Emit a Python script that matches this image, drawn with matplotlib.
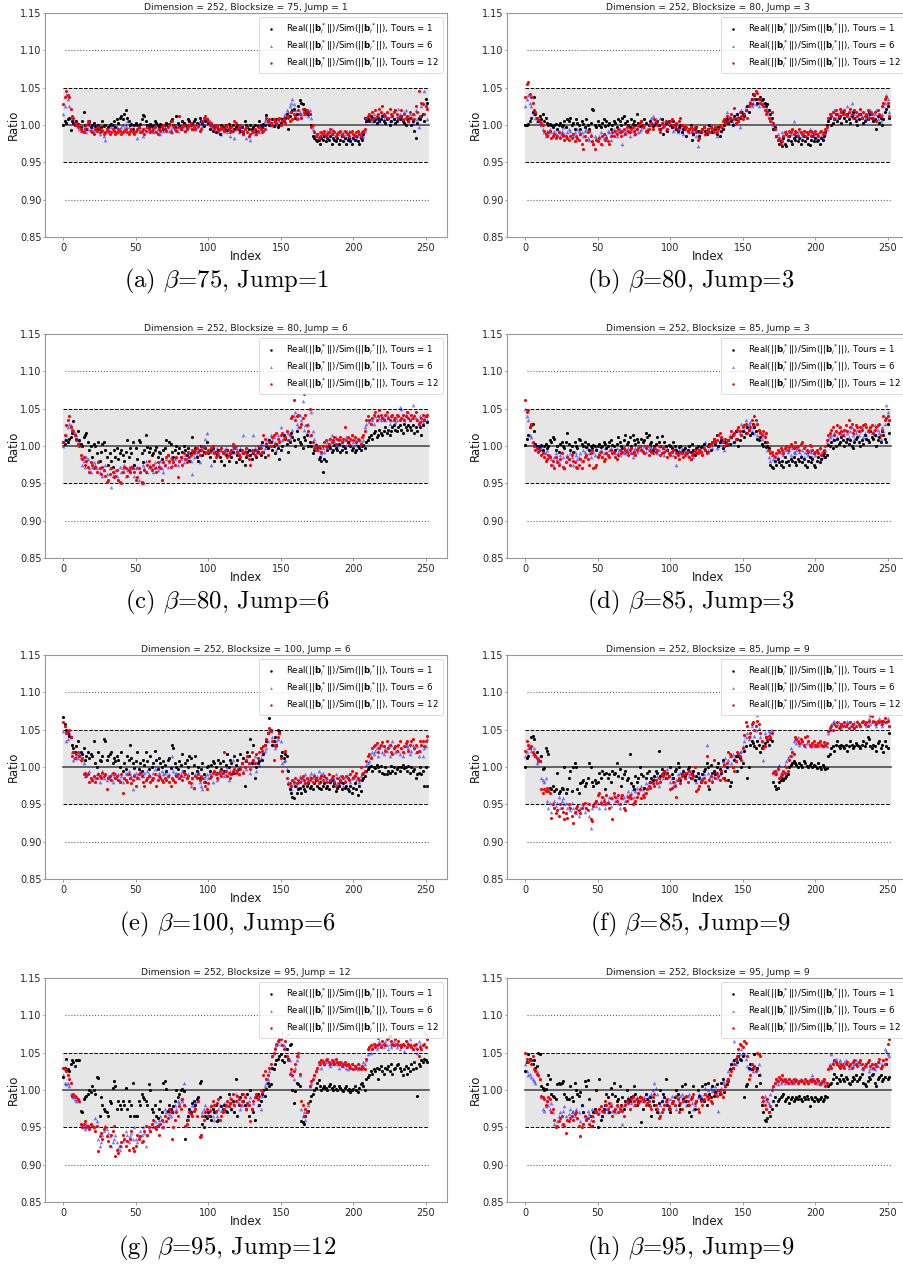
import numpy as np
import matplotlib.pyplot as plt

# Real/Sim ratio per index, stored as deviation from 1 in thousandths
# (a) blocksize 75, jump 1
a_t1 = """
0 5 3 8 10 -7 5 3 0 5  2 0 -3 5 18 0 -5 2 5 -3  0 3 -2 -5 0 -5 -3 5 -2 0
-5 -3 0 2 0 5 -3 8 3 10  12 8 15 20 10 5 0 2 -5 0  3 0 -3 2 8 13 12 5 0 -3
2 -2 0 6 3 0 -3 2 0 -5  0 3 -2 2 5 8 0 -3 12 3  -2 -5 5 3 0 -2 8 5 0 3
5 8 3 2 10 5 3 -2 5 8  3 -5 0 -8 -3 -10 -2 -5 -12 0  -3 -5 0 -7 2 -3 -8 0 -5 -3
0 -5 -8 -3 -10 5 0 -3 -5 0  -5 -3 0 -8 -2 5 0 -3 2 0  13 5 0 3 8 -2 5 8 -3 0
3 8 5 10 15 -5 12 18 20 22  10 15 25 33 30 28 22 20 18 15  15 0 -15 -18 -20 -22 -20 -25 -18 -20
-15 -22 -18 -20 -15 -25 -18 -20 -22 -18  -25 -20 -15 -22 -18 -25 -20 -18 -22 -25
-18 -20 -15 -22 -25 -18 -20 -12 10 5  8 5 12 10 5 8 3 10 5 8  12 5 3 8 10 0 5 12 8 3
5 10 8 12 5 3 0 8 5 10  0 5 -8 -18 3 10 8 12 15 5  35 30
"""
a_t6 = """
15 25 40 35 25 10 12 8 5 3  0 -5 -8 -5 0 -3 -10 -5 0 -5  -3 -8 -5 0 -3 -12 -8 -5 -15 -20
-10 -5 -8 -3 0 -5 -8 -3 -10 -5  -3 0 -5 -2 5 -3 -8 -5 0 -10  -8 -18 -5 -3 -10 -15 -5 -3 0 -8
-5 -3 -10 -8 0 -5 -3 -12 -5 -8  -3 -5 0 -8 -5 -10 -3 0 -5 -8  -3 0 -5 -2 -8 -3 0 5 -3 -5
0 -5 -3 0 5 3 -2 8 10 5  3 5 -2 -5 0 -8 -3 -10 -5 -12  -3 -8 -5 -10 -3 -15 -8 -5 -18 -3
-5 -10 -8 -3 -12 -5 -18 -8 -15 -20  -10 -5 -12 -8 -3 -10 -5 0 -3 5  8 3 5 0 2 5 0 3 8 5
10 5 12 15 20 18 25 30 35 28  20 15 10 18 12 15 20 18 15 12  20 10 -5 -8 -12 -15 -10 -18 -12 -15
-10 -12 -8 -15 -10 -5 -12 -8 -15 -10  -12 -8 -15 -10 -18 -12 -15 -8 -20 -18
-15 -12 -18 -15 -10 -12 -18 -15 -8 5  12 8 10 5 15 10 8 12 5 10  15 8 12 18 10 5 12 15 20 8
12 22 15 10 8 18 20 12 5 15  10 3 15 20 8 -3 12 25 30 45  25 8
"""
a_t12 = """
28 38 45 40 38 22 12 10 3 0  -3 0 -5 -8 -10 -5 0 5 3 -8  -10 -12 -5 -8 -3 -10 -5 -8 -12 -10
-5 -8 -12 -10 -5 -8 -12 -10 -5 -8  -12 -10 -8 -5 -10 -12 -8 -5 -10 -12  -8 -5 -3 -10 -8 -5 -12 -8 -3 -5
-10 -8 -5 -3 -10 -12 -5 -8 -3 0  -5 -8 -3 0 -10 5 -2 -5 -8 -3  12 -5 -3 0 -8 -5 -3 0 3 -5
-3 -5 0 -2 -8 -5 5 10 12 8  5 0 3 -3 -5 0 -3 -8 -5 -3  -5 -8 -3 0 -5 -10 -3 -8 5 3
-5 -3 0 -8 -12 -5 -3 -10 -15 -12  -8 -10 -5 -12 -8 -3 -5 -10 -8 -5  10 5 8 3 0 8 5 3 8 10
0 5 8 3 12 10 5 18 8 15  12 8 20 15 10 22 18 15 20 18  15 -3 0 -10 -15 -12 -18 -15 -10 -12
-8 -15 -12 -10 -5 -12 -8 -10 -15 -12  -10 -8 -12 -15 -8 -10 -12 -15 -10 -8
-12 -15 -10 -8 -12 -15 -10 -8 -5 10  12 15 8 18 10 20 12 15 22 18  25 15 12 18 10 22 15 12 18 20
15 10 12 20 8 15 10 12 5 18  10 15 8 25 18 45 12 30 28 15  25 22
"""

# (b) blocksize 80, jump 3
b_t1 = """
0 0 2 5 10 18 38 15 10 5  12 8 15 5 10 3 0 2 0 -3  0 2 -5 0 3 -2 0 5 -3 8
5 10 0 3 -5 8 3 0 -5 5  2 -3 8 0 -5 3 22 20 0 -3  5 0 -3 3 8 -2 5 0 3 -5
0 5 3 -3 8 5 0 10 12 3  5 0 -3 8 2 5 0 15 3 -2  5 0 8 3 -8 0 5 3 -2 0
3 5 0 -5 8 -12 0 3 -8 5  0 -3 5 0 -5 -8 -3 0 -10 -5  -3 -15 -8 -5 0 -20 -12 -5 -3 -8
-15 -10 -5 -3 -8 -12 -5 0 -3 -10  -8 -5 -12 -3 -15 -8 -5 0 5 8  3 10 5 0 12 8 15 5 10 18
15 12 20 25 18 30 35 42 40 35  30 35 38 33 35 30 25 28 20 15  10 -5 -3 -15 -20 -25 -22 -28 -18 -25
-28 -20 -15 -22 -25 -18 -20 -15 -22 -18  -25 -20 -15 -22 -18 -25 -27 -20 -15 -22
-18 -22 -20 -25 -18 -20 -15 -10 0 5  10 0 3 8 15 5 10 12 3 18  10 5 15 8 3 12 18 10 5 0
8 15 10 3 5 12 8 18 15 10  5 8 -5 12 3 10 0 8 18 22  25 10
"""
b_t6 = """
25 35 40 30 25 18 15 10 5 8  3 0 -5 -10 -15 -8 -12 -5 -10 -15  -8 -12 -5 -10 -15 -8 -3 -12 -18 -10
-5 -8 -12 -15 -10 -20 -5 -8 -12 -10  -15 -8 -5 -18 -20 -12 -22 -25 -15 -18  -20 -15 -10 -25 -18 -12 -15 -8 -10 -20
-12 -5 -10 -15 -8 -5 -10 -25 -12 -8  -5 -10 -15 -3 -8 -12 -5 -3 -10 -8  -5 0 -3 -8 -5 0 5 10 12 3
8 5 0 10 -3 5 0 -5 3 5  0 -3 -8 -5 0 -10 -5 -3 -8 -12  -5 -3 -8 -10 -5 -3 -12 -8 -15 -28
-10 -5 -8 -3 -12 -5 -10 0 -8 -5  -3 -10 -15 -5 0 -8 -3 5 10 18  5 12 8 3 10 15 5 12 -3 20
18 15 25 20 28 32 25 30 35 28  30 25 35 28 30 25 20 22 15 10  5 0 -5 -15 -12 -18 -20 -10 -15 -12
-8 -15 -10 -12 -5 5 -15 -10 -12 -8  -10 -15 -12 -8 -15 -10 -5 -12 -8 -15
-10 -15 -12 -8 -15 -18 -10 -12 -5 8  12 15 18 20 10 15 12 18 22 15  20 15 25 18 12 30 20 15 10 18
15 22 12 18 8 10 15 12 20 18  10 15 20 8 12 5 15 25 30 40  35 18
"""
b_t12 = """
37 55 58 42 38 30 20 18 10 8  5 3 0 -8 -12 -15 -10 -8 -18 -15  -12 -18 -15 -10 -18 -12 -15 -20 -15 -18
-20 -15 -18 -12 -22 -15 -18 -20 -12 -25  -32 -15 -20 -10 -8 -15 -22 -25 -32 -20  -22 -18 -25 -15 -12 -20 -18 -22 -25 -15
-10 -15 -8 -12 -5 -10 -15 -8 -5 -12  -3 -8 -10 -5 -3 -8 -12 -5 0 3  5 -3 0 -8 -10 -5 0 3 -5 8
5 0 -5 -10 3 -3 0 5 -5 2  5 8 0 -3 3 -5 5 10 0 -2  -5 -3 -8 -5 -3 -10 -5 -3 -10 -20
-18 -8 -5 -3 -12 -8 -5 -10 -3 -5  -8 -3 -10 -5 0 -3 5 8 3 12  5 10 15 8 23 3 10 5 18 12
8 15 20 10 25 30 28 35 42 45  43 35 30 28 25 20 15 18 10 5  18 3 -5 -15 -20 -18 -25 -22 -15 -10
-12 -15 -8 -10 -5 -12 -8 -10 -15 -5  -10 -12 -8 -15 -10 -12 -8 -15 -10 -12
-8 -12 -15 -10 -8 -12 -10 -5 -3 10  15 12 18 10 20 15 12 22 18 15  20 15 12 18 22 15 10 20 18 12
15 22 10 18 12 15 20 10 18 15  10 18 5 20 15 12 25 30 35 38  30 12
"""

# (c) blocksize 80, jump 6
c_t1 = """
5 3 8 5 10 12 18 33 15 10  20 8 3 0 12 15 18 5 -5 0  -15 3 0 -10 5 -20 -8 3 5 -5
-15 -25 -10 -20 -28 -5 -15 -3 -18 -10  -5 -12 -20 -8 8 -15 -3 -10 5 -25  -3 -18 8 5 -10 -22 -5 15 -2 -8
-3 -12 -10 -5 -2 -15 -8 -10 -18 -5  -3 8 -12 5 3 -8 -15 -5 0 -10  -3 -15 -8 0 -5 -12 -3 -20 -10 12
-8 -3 -15 -20 -5 0 -12 -8 -3 5  -10 -15 -5 -3 -20 -8 -12 -5 -15 -20  -8 -25 -12 -5 -20 -10 -15 -8 -3 -22
-12 -18 -5 -20 -10 -25 -15 -8 -5 -12  -18 -10 -5 -15 -8 -3 -12 5 -8 -15  0 -3 8 5 -5 0 -10 3 -3 -18
-5 0 15 10 3 -8 5 18 12 8  0 20 10 5 3 -3 12 8 15 0  5 0 -10 -5 2 -2 -18 -15 -20 -35
-18 -20 -5 0 -3 -8 -5 2 -3 -5  3 -8 -5 0 -3 -8 5 2 0 -5
-3 -8 -5 0 -3 -5 0 2 -3 5  8 12 15 10 18 20 12 15 22 18  15 20 25 18 22 15 20 25 28 22
20 25 28 22 18 30 25 22 28 25  22 28 18 25 20 30 25 15 28 35  40 32
"""
c_t6 = """
0 10 15 25 30 28 22 20 18 15  8 5 -15 -25 -20 -28 -15 -18 -30 -35  -28 -22 -25 -30 -20 -35 -28 -40 -32 -25
-38 -45 -30 -55 -40 -35 -32 -40 -45 -28  -35 -30 -25 -40 -32 -28 -35 -30 -25 -40  -30 -28 -45 -35 -50 -25 -30 -20 -35 -28
-25 -30 -35 -22 -28 -32 -25 -20 -30 -35  -25 -18 -28 -22 -15 -25 -20 -18 -15 -25  -20 -18 -15 -22 -12 -18 -15 -10 -20 -38
-15 -8 -12 -5 -22 -3 -5 0 10 18  -5 -3 -25 -8 -5 -10 -3 -8 -5 -2  -10 -5 -3 -8 -12 -5 -10 0 -8 -3
-5 -10 -3 -8 15 -5 -10 -3 -12 -5  -8 15 -3 -10 -5 0 3 5 -8 -3  5 10 0 15 8 12 5 -5 15 10
25 8 15 12 20 18 10 15 22 40  45 30 25 42 35 60 22 28 18 30  15 45 20 10 3 0 -5 -15 -10 -3
-8 0 5 10 -3 15 8 5 12 0  3 10 5 8 0 12 5 3 8 15
5 10 3 8 0 5 3 8 25 30  35 32 38 35 30 40 35 42 38 35  40 38 35 42 38 30 35 40 38 32
35 42 52 50 38 35 42 40 45 35  38 55 42 38 35 30 40 35 32 38  40 35
"""
c_t12 = """
5 15 28 35 40 25 22 20 15 8  3 0 -12 -18 -15 -25 -20 -28 -35 -22  -25 -30 -28 -35 -22 -30 -38 -28 -32 -40
-48 -45 -38 -30 -35 -42 -40 -32 -45 -48  -50 -35 -28 -30 -40 -32 -35 -28 -30 -35  -45 -42 -30 -35 -48 -50 -32 -35 -25 -20
-28 -32 -25 -30 -35 -22 -28 -30 -45 -22  -25 -15 -12 -20 -28 -18 -22 -25 -15 -42  -20 -15 -25 -10 -18 -22 -8 -15 -12 -5
-10 -5 -3 -8 -12 -5 0 -3 -10 -8  -5 -8 -3 0 -10 -15 -8 -12 -5 -3  -8 -10 -5 -15 -12 -10 -5 3 -3 0
-8 -12 -15 -5 -10 -8 -3 -12 -18 -25  -5 -8 -12 -5 0 -10 -3 -8 15 10  3 -12 5 0 12 15 3 18 10 5
15 18 10 12 20 8 15 38 40 62  35 40 42 25 30 38 70 42 28 20  50 15 5 -3 0 -5 -2 -3 -8 0
5 8 -2 3 10 5 8 12 3 10  8 12 5 10 25 8 12 3 10 15
8 12 5 10 8 3 12 15 20 35  40 35 30 38 42 45 35 40 48 42  38 35 42 45 38 35 40 42 35 38
42 40 35 38 42 35 40 45 38 35  42 38 40 45 35 30 32 38 42 35  40 42
"""

# (d) blocksize 85, jump 3
d_t1 = """
2 10 15 25 28 30 20 3 0 -3  0 2 -5 0 3 -3 0 8 5 12  10 -5 0 -8 3 5 0 -3 5 18
3 -5 0 -8 5 0 -3 10 8 3  0 5 -2 3 -5 0 -3 2 0 -5  0 3 -2 0 5 3 -3 0 5 8
2 0 -5 3 12 5 0 -3 8 15  3 5 12 0 15 8 3 10 5 0  10 5 8 18 12 15 3 5 -5 0
3 12 5 0 13 -3 5 0 -5 2  0 -3 5 0 -5 -8 -2 0 -8 -5  -3 -10 -5 0 -8 3 -5 -12 -3 0
-5 -2 0 3 -5 -8 0 3 -5 5  10 3 15 0 5 8 -3 0 5 2  8 3 12 15 5 20 10 0 8 15
20 12 18 25 22 15 18 30 25 20  10 8 12 3 0 5 -2 0 -3 -25  -28 -30 -20 -25 -18 -22 -25 -20 -28 -15
-22 -20 -25 -18 -20 -15 -22 -25 -18 -20  -15 -22 -18 -25 -28 -20 -15 -22 -18 -25
-28 -20 -15 -22 -18 -12 -10 -15 -12 2  0 5 -3 8 0 10 3 5 12 8  0 5 10 3 8 0 -3 5 10 12
5 0 8 3 15 10 8 5 20 12  10 15 0 8 12 5 20 15 10 5  30 18
"""
d_t6 = """
50 40 35 15 12 5 3 0 -3 -5  -2 0 -5 -8 -10 -5 -15 -12 -18 -25  -15 -10 -18 -22 -12 -8 -15 -30 -20 -12
-18 -10 -15 -25 -8 -12 -18 -15 -10 -20  -5 -8 -12 -3 -10 -15 -5 -8 -12 -3  -12 -8 -5 -15 -10 -3 -8 -12 -5 -3
-8 -5 -10 -3 -8 -12 -5 -3 -8 -10  -5 -3 -8 -10 -15 -5 -3 -8 -5 0  -3 -5 0 -8 -3 -5 0 -2 -8 -5
-3 -10 -5 0 -8 -3 -12 -5 -3 -10  -8 -5 -12 -3 -25 -8 -5 -10 -3 -8  -5 -10 -12 -5 -18 -8 -15 -5 -10 -3
-8 -5 -10 -3 5 -8 -5 0 3 -3  5 8 -3 0 5 12 10 -5 3 5  8 15 12 5 18 10 20 25 18 30
28 22 35 25 30 32 20 25 18 30  15 22 20 10 18 15 5 -5 -15 -20  -12 -18 -20 -10 -15 -8 -5 -10 -12 -5
-3 -8 -5 -12 -3 -8 -10 -5 -3 -8  -12 -5 -15 -8 -10 -12 -5 -8 -15 -10
-12 -5 -8 -3 -10 -15 -8 -5 5 10  12 15 10 18 20 12 25 18 15 20  15 22 18 12 20 25 15 10 18 22
15 20 25 12 18 15 22 20 25 18  20 28 15 22 18 10 25 20 30 55  45 35
"""
d_t12 = """
62 45 48 25 30 5 0 -5 -3 -8  -5 -12 -10 -15 -20 -18 -12 -15 -25 -20  -30 -15 -22 -25 -18 -10 -28 -30 -22 -15
-18 -25 -12 -20 -22 -28 -30 -25 -18 -30  -20 -15 -12 -18 -25 -10 -5 -30 -28 -25  -15 -12 -8 -15 -20 -18 -10 -12 -15 -5
-10 -8 -15 -18 -12 -5 -10 -8 -3 -5  -8 -12 -5 -3 -10 -8 -12 -5 -3 0  -5 -8 -10 -3 0 -12 -5 -8 -10 -3
-8 -5 0 -12 -10 -3 -8 -5 -15 -10  -12 -8 -5 -15 -10 -12 -18 -8 -10 -15  -12 -10 -8 -15 -18 -12 -10 -5 -8 -10
-5 -8 -12 -3 -5 -10 -8 0 3 5  10 5 8 15 18 12 5 0 10 3  8 12 20 15 18 10 22 25 20 15
25 28 30 18 22 25 35 28 40 35  30 22 18 15 20 12 18 5 -5 -10  -8 -12 -15 -10 -5 -8 -3 -5 -10 -3
0 -5 -2 3 0 -3 5 -2 0 -5  3 5 -3 0 -5 -8 2 0 -5 -10
-8 -5 -10 -3 -12 -8 -5 0 8 15  18 22 25 15 20 28 18 25 20 15  22 28 20 35 25 30 18 22 28 25
20 25 22 28 30 25 20 22 25 28  18 22 25 28 30 15 22 40 35 38  40 35
"""

# (e) blocksize 100, jump 6
e_t1 = """
67 58 50 45 42 40 30 25 20 28  35 15 20 18 25 10 15 20 12 18  15 35 5 0 20 10 8 15 38 35
10 15 18 20 5 12 8 15 10 0  20 -5 5 -3 15 10 30 12 5 -2  8 20 -3 5 -5 10 3 20 8 -3
15 0 5 22 10 -3 12 5 0 8  3 -5 10 12 -2 30 25 5 0 -3  8 3 17 -5 5 10 0 15 12 -8
3 15 -5 0 -15 -3 5 -10 -20 0  2 -5 3 8 5 0 -8 10 5 -3  8 -5 3 18 0 10 5 -8 15 3
10 -3 18 5 12 -25 8 20 15 38  5 30 -15 0 5 8 25 10 18 30  35 45 65 50 30 35 40 30 50 48
15 20 12 18 15 -5 -30 -35 -40 -42  -25 -35 -30 -28 -35 -25 -30 -32 -25 -22  -28 -25 -30 -22 -18 -25 -28 -20 -30 -25
-22 -28 -25 -30 -20 -18 -25 -22 -32 -28  -25 -20 -30 -22 -28 -25 -30 -32 -25 -35
-28 -22 -30 -38 -25 -32 -18 -15 -12 -5  -3 0 2 -5 0 -2 3 0 -5 2  -8 -10 0 -10 -5 -8 2 -5 0 -8
-3 0 -5 0 3 -2 0 -5 2 -8  0 -5 -3 -15 -10 -8 0 -10 -5 -25  0 -25
"""
e_t6 = """
48 55 35 38 45 40 20 10 12 15  12 18 20 10 5 -12 -10 -8 -5 -15  -18 -12 -15 -10 -8 -20 -12 -5 -15 -10
-18 -12 -15 -10 -20 -12 -8 -15 -10 -18  -12 -20 -15 -8 -10 -5 -15 -12 -30 -10  -8 -12 -15 -5 -10 -12 -8 -18 -5 -10
-12 -15 -8 -3 -10 0 -8 -12 -5 -10  -8 -5 -12 -10 0 15 -5 -10 -8 -12  -15 -10 -5 -12 -8 -15 -10 -20 -25 -15
-28 -10 -12 -5 -20 -25 -30 -15 -12 -10  -15 -8 -12 -20 -5 -10 -18 -15 -10 -8  -5 -12 -10 0 -18 -5 -10 10 -8 -5
-3 -10 0 5 -5 10 -3 15 5 -8  10 5 15 -5 8 3 12 18 20 22  25 35 50 48 40 30 25 35 38 45
35 5 8 10 -3 -20 -25 -30 -18 -22  -15 -25 -20 -12 -18 -15 -22 -10 -15 -18  -12 -8 -15 -10 -18 -12 -5 -15 -10 -8
-12 -18 -15 -10 -20 -12 -15 -18 -10 -22  -15 -12 -20 -25 -18 -12 -15 -10 -20 -15
-12 -10 -18 -15 -20 -12 -8 -10 -5 3  5 8 15 20 18 22 25 15 28 30  20 18 25 22 28 15 30 35 25 20
28 22 18 25 15 20 28 30 25 18  22 30 25 20 28 15 22 30 15 25  28 38
"""
e_t12 = """
60 55 45 48 50 40 15 20 12 18  20 15 10 12 -10 -8 -12 -10 -20 -15  -18 -12 -20 -15 -10 -12 -15 -8 -12 -10
-30 -15 -12 -18 -8 -10 -15 -12 -18 -20  -10 -35 -15 -18 -20 -10 -15 -22 -18 -12  -25 -15 -10 -8 -12 -20 -25 -18 -15 -12
-20 -18 -15 -10 -25 -18 -12 -15 -18 -20  -15 -18 -12 -20 -25 -15 -18 -20 -12 -10  -15 -12 -18 -8 -10 -15 -12 -20 -22 -15
-28 -12 -15 -10 -18 -12 -15 -20 -25 -30  -22 -15 -12 -8 -5 -10 -15 -8 -5 -12  -8 20 -5 -12 -8 -15 -10 -5 -3 -8
-5 -10 -3 5 -8 0 10 15 5 -3  20 10 5 18 12 20 25 22 28 30  38 45 52 48 35 10 30 28 40 45
12 -5 20 22 -15 -23 -22 -25 -18 -20  -15 -22 -18 -20 -15 -12 -18 -22 -15 -20  -18 -15 -20 -12 -15 -18 -22 -15 -12 -18
-12 -15 -20 -10 -18 -15 -12 -20 -25 -15  -22 -18 -12 -15 -20 -12 -15 -18 -10 -5
-15 -12 -8 -15 -18 0 -10 -8 -5 8  15 18 12 25 28 30 32 20 25 30  33 28 22 35 25 30 20 18 25 28
22 30 35 25 20 28 32 35 22 30  35 37 25 30 20 22 35 30 35 28  35 42
"""

# (f) blocksize 85, jump 9
f_t1 = """
0 12 15 25 40 42 38 15 20 10  8 15 -3 -2 25 22 18 -28 -30 -25  -32 -30 -8 -35 -32 -28 -30 0 -35 -30
-15 -5 -32 0 5 0 -30 -35 -22 -20  -18 -25 -22 -15 5 0 -20 -25 -18 -22  -20 -8 -15 -5 -10 -30 -8 -15 -10 -20
-5 -10 -8 5 -12 -3 -25 -15 -10 -5  -18 -15 18 -22 -25 -30 -12 -20 -15 0  -10 -12 -28 -15 -8 -5 -20 -15 -18 -12
-5 -8 22 -12 -3 -10 -5 -15 -8 -12  0 -10 -15 -5 -3 5 0 -18 -10 -5  -12 -8 -3 0 -15 -10 -5 -18 -12 -8
-15 -20 -10 -5 -3 5 0 -30 3 -8  -5 -10 0 5 -3 -8 10 -15 -5 0  -18 -25 -20 0 10 15 -5 15 12 0
5 22 28 -15 0 30 35 32 28 25  35 30 20 25 28 32 40 35 30 38  35 -20 -25 -30 -28 -20 -18 -15 -18 -15
-12 -10 0 3 5 8 5 3 0 5  3 0 8 5 2 0 3 5 0 3
2 -2 5 0 -3 3 0 -3 -2 15  18 25 28 22 30 35 28 25 30 28  25 30 22 28 35 30 25 28 32 30
28 25 30 35 28 32 40 38 28 25  30 28 22 32 35 25 30 20 35 28  25 45
"""
f_t6 = """
15 20 25 27 22 18 25 15 5 8  15 -15 -18 -20 -15 -45 -55 -48 -60 -50  -45 -52 -48 -40 -55 -45 -42 -50 -48 -55
-52 -58 -48 -55 -60 -62 -58 -65 -55 -50  -52 -60 -55 -48 -65 -82 -55 -50 -45 -52  -48 -55 -45 -50 -42 -55 -48 -45 -40 -52
-42 -38 -45 -40 -48 -55 -38 -42 -40 -45  -38 -32 -42 -35 -30 -40 -32 -28 -35 -30  -25 -30 -35 -22 -28 -20 -25 -18 -22 -15
-20 -12 -25 -18 -8 -15 -5 -10 -3 -12  -20 -15 -25 -22 -18 -10 -15 -8 -12 -5  -15 -10 -8 -12 -5 -15 -10 -18 -20 -15
-12 -18 -15 -10 -20 30 -8 -15 -12 -18  -12 -5 -8 -15 -10 -3 8 5 12 0  10 15 5 18 12 8 15 18 20 22
28 35 40 45 38 42 55 60 42 50  70 52 40 35 10 45 40 35 48 45  50 -5 -10 -5 0 3 -8 -10 -5 3
8 12 15 25 20 35 38 32 40 30  32 35 30 28 32 35 30 28 32 30
28 32 30 33 30 28 32 30 28 45  50 58 60 62 55 58 60 55 52 60  58 55 62 60 55 58 52 60 55 62
58 55 60 62 58 55 60 65 58 60  62 58 55 60 65 58 55 62 60 80  65 55
"""
f_t12 = """
22 35 30 25 28 20 18 15 12 10  8 -30 -35 -30 -32 -28 -32 -35 -68 -50  -55 -62 -58 -65 -50 -55 -60 -70 -62 -68
-50 -55 -65 -75 -60 -55 -52 -58 -62 -55  -50 -48 -55 -58 -50 -70 -72 -52 -48 -45  -38 -35 -48 -40 -45 -50 -38 -48 -55 -42
-70 -35 -40 -45 -38 -50 -42 -38 -55 -58  -45 -40 -38 -42 -50 -48 -45 -40 -35 -30  -42 -38 -40 -35 -30 -25 -28 -20 -22 -25
-18 -22 -15 -20 -10 -12 -5 -8 -15 -12  -30 -28 -20 -25 -40 -18 -15 -22 -12 -10  -15 -8 -20 -5 -10 -15 -12 0 -32 -30
-25 -20 -18 -15 -20 15 -25 -18 -12 -20  10 -15 -8 -12 -18 -5 -15 3 -18 5  20 18 15 0 -5 8 20 18 15 10
25 43 60 55 40 45 58 60 50 55  62 58 45 35 25 28 40 38 42 40  45 -8 -5 -10 -3 -15 -12 -10 -5 -8
0 -5 10 15 20 18 40 38 35 32  38 35 30 40 42 35 30 28 32 35
30 28 32 35 30 28 33 30 32 48  52 55 50 58 55 60 52 55 58 55  60 55 58 52 60 55 58 52 55 60
58 55 60 62 58 60 55 62 70 68  62 60 58 62 60 62 58 62 65 60  62 55
"""

# (g) blocksize 95, jump 12
g_t1 = """
18 30 42 28 25 35 40 38 32 40  40 40 -28 -30 -12 -10 -8 -5 0 -3  5 0 -5 18 16 -35 -10 -20 -25 -28
-30 -35 -15 -18 3 12 5 -25 -15 -20  -25 -15 -20 3 -25 -15 -35 -20 10 -35  -35 -35 -15 -20 -5 -10 -12 -15 -20 8
0 -25 -30 -20 -35 -38 -25 -15 -30 10  12 2 -28 -20 -25 -30 -22 -15 0 -10  -5 0 2 -2 -65 -40 -35 -25 -30 -18
-15 -20 -12 -10 10 12 -45 -50 -35 -38  -30 -35 -40 -25 -30 -20 -42 -40 -10 -22  -25 -20 -28 -30 -5 -18 -25 -15 -30 15
-35 -20 -10 -5 -15 -20 -25 -5 -35 0  -25 -30 -40 -10 -5 -20 -15 -5 0 -8  2 10 5 8 30 28 35 40 42 45
48 40 38 45 55 42 60 62 0 -18  -2 10 8 5 -42 -43 -45 -35 -30 -28  -15 -8 -5 0 3 10 13 5 0 3
5 3 0 5 8 3 0 5 2 0  5 3 0 -2 3 5 0 2 -3 0
2 5 0 -3 3 8 10 5 0 15  18 20 25 22 28 25 30 15 28 32  25 22 30 28 32 25 35 22 28 30
33 35 30 25 20 28 32 22 30 25  35 28 38 30 -8 35 32 40 38 42  40 38
"""
g_t6 = """
20 10 8 10 5 -5 -8 -10 -12 -15  -12 -15 -45 -48 -50 -52 -45 -48 -50 -45  -48 -50 -38 -42 -65 -75 -70 -60 -55 -48
-52 -58 -62 -75 -70 -65 -60 -70 -78 -80  -75 -68 -65 -55 -60 -70 -62 -58 -65 -50  -65 -70 -62 -55 -60 -50 -58 -75 -60 -52
-55 -45 -50 -42 -48 -45 -40 -35 -50 -42  -25 -30 -28 -32 -35 -30 -28 -20 -25 -15  -18 -12 -15 10 -20 -45 -35 -25 -28 -20
-22 -18 -15 -10 -60 -62 -30 -25 -20 -28  -32 -25 -20 -35 -40 -30 -35 -25 -20 -28  -25 -18 -22 -15 -20 -10 -25 -18 -20 -5
-15 -18 -25 -20 -15 -8 -25 -20 -15 -10  -25 -18 -10 -5 -20 -12 -25 -8 -5 5  10 15 25 30 45 50 58 60 62 65
62 78 60 58 55 75 40 25 20 15  30 40 45 20 -25 -35 -30 -40 -28 -20  5 10 15 20 25 30 35 38 30 40
35 38 40 35 32 38 35 40 38 35  30 35 38 32 35 30 28 35 32 30
35 30 32 28 35 30 32 38 35 40  48 55 50 58 60 62 55 58 65 60  62 58 65 60 55 62 58 60 65 62
58 60 55 62 60 52 58 65 60 68  62 55 60 58 50 65 62 55 60 78  75 70
"""
g_t12 = """
30 28 25 20 15 10 -8 -5 -8 -10  -12 -15 -45 -50 -45 -42 -50 -48 -52 -45  -48 -50 -55 -48 -82 -62 -58 -65 -52 -50
-62 -68 -75 -60 -55 -48 -88 -80 -85 -75  -70 -60 -65 -75 -68 -80 -65 -55 -78 -82  -75 -60 -65 -62 -70 -68 -55 -48 -60 -50
-55 -45 -40 -50 -52 -48 -60 -45 -40 -50  -35 -42 -38 -25 -30 -65 -50 -40 -30 -35  -22 -25 -12 -20 -48 -45 -40 -30 -32 -35
-28 -25 -35 -15 -63 -60 -35 -40 -30 -25  -35 -28 -22 -15 -20 -28 -18 -12 -40 -35  -30 -25 -20 -15 -22 -18 -12 -5 -20 -15
-8 -12 -20 -15 -5 -10 -25 -18 -20 -42  -25 -15 -10 -5 -12 -8 0 -2 20 25  15 20 30 35 45 50 55 62 65 68
68 60 55 65 45 40 22 28 20 25  35 45 50 22 -15 -20 -35 -25 -30 -18  5 12 15 20 25 30 38 35 40 38
35 40 42 38 35 40 38 35 42 38  35 38 32 35 38 33 35 32 30 35
28 32 30 35 30 28 32 30 28 42  55 58 60 55 62 58 60 70 62 58  65 62 60 68 70 72 65 62 60 68
62 65 60 58 62 60 65 58 62 60  58 55 60 62 55 45 58 55 60 62  58 68
"""

# (h) blocksize 95, jump 9
h_t1 = """
25 38 48 42 40 35 40 30 32 50  48 5 3 0 2 8 20 15 -5 -8  -10 -12 8 10 8 10 12 -5 -10 -12
-12 5 -10 -15 10 0 -5 -8 -3 -20  -30 12 5 13 -12 -35 -48 -30 -25 0  -50 15 -40 -35 -25 -20 -5 -10 -30 3
-5 10 -8 -15 -12 5 -20 -10 -25 -15  0 -12 -15 -10 -8 5 -5 -20 -15 -10  -43 -25 -15 -5 -12 -20 -10 -35 -15 -20
-25 -30 -18 0 -15 -5 -10 15 -20 -25  -30 -18 -15 -10 0 -5 -20 -25 5 -12  8 -15 -20 -30 -35 -10 5 -25 -15 0
-8 -12 5 -15 8 -20 10 -5 -10 5  -8 -3 8 0 -5 10 15 -3 5 8  12 28 35 30 40 42 38 45 42 40
45 -10 5 8 30 35 28 30 48 5  30 20 10 -20 -30 -40 -42 -38 -30 -35  -25 -15 -10 -20 -15 -12 -10 -8 -5 -15
-12 -10 -18 -12 -10 -15 -12 -10 -12 -8  -12 -15 -10 -12 -8 -12 -22 -10 -12 -15
-10 -12 -15 -12 -10 -15 -12 -8 -10 5  8 10 15 22 18 10 15 12 20 15  12 18 15 10 8 12 18 15 20 12
15 18 22 10 8 5 12 18 15 20  22 10 5 15 18 20 12 15 18 35  15 18
"""
h_t6 = """
35 25 20 22 18 15 12 10 25 20  15 -10 -25 -28 -22 -15 -20 -25 -18 -30  -45 -48 -42 -35 -30 -45 -28 -22 -35 -40
-32 -25 -30 -28 -35 -25 -38 -30 -42 -20  -30 -35 -38 -28 -32 -40 -25 -35 -30 -28  -25 -30 -22 -35 -28 -20 -25 -30 -22 -18
-28 -25 -30 -20 -22 -28 -25 -45 -20 -18  -15 -10 -12 -18 -15 -20 -12 -10 -15 -8  -12 -15 -10 -5 -12 -8 -10 -5 0 10
3 -5 -30 -20 -15 -25 -10 -18 -15 -20  -12 -8 -15 -20 -25 -10 -15 -8 -5 -10  -15 -20 -8 -5 -10 -18 -25 -20 -15 -10
-5 -8 -12 -5 3 -8 0 -5 3 -2  0 5 -3 -28 0 3 12 10 5 15  25 30 35 40 65 35 40 45 48 55
50 48 42 32 30 28 35 25 32 30  28 35 22 -15 -10 -8 -12 -15 -18 -5  3 5 10 12 8 15 10 12 15 10
12 15 10 12 14 10 12 15 10 12  15 12 10 14 12 10 15 12 20 15
12 10 15 8 12 15 10 12 8 30  35 48 38 40 42 35 38 40 32 35  38 40 35 30 35 38 32 35 40 35
38 35 30 28 35 32 38 25 30 35  30 28 35 32 38 30 35 40 55 52  48 45
"""
h_t12 = """
50 42 38 40 35 45 28 25 22 20  15 -8 -10 -12 -20 -15 -10 -12 -30 -25  -40 -50 -48 -42 -38 -35 -45 -48 -58 -40
-42 -38 -35 -40 -32 -30 -38 -48 -62 -50  -45 -35 -40 -38 -45 -48 -35 -42 -28 -30  -32 -25 -22 -28 -30 -15 -20 -25 -18 -22
-35 -28 -25 -20 -30 -25 -22 -28 -35 -20  -15 -18 -25 -12 -10 -15 -20 -12 -18 -15  -10 -12 -15 -20 -18 -15 -22 -25 -10 -5
-20 -25 -38 -35 -30 -25 -20 -15 -12 -22  -25 -18 -15 -20 -8 -12 -30 -18 -25 -15  -10 -8 -15 -20 -12 -10 -5 -18 -15 -25
-30 -15 -20 -12 -5 -8 -12 -10 -15 -18  13 -5 -8 0 -2 -5 -10 0 5 12  15 20 25 30 35 40 45 55 62 60
58 65 63 45 15 20 35 30 32 25  50 48 45 -10 -15 -20 -25 -12 -30 -22  0 5 10 15 12 18 15 20 12 15
12 10 15 12 10 15 12 14 10 12  14 12 10 15 12 10 14 12 15 12
10 15 12 8 10 12 15 5 10 28  32 30 35 40 38 35 32 30 35 32  30 35 38 32 35 30 38 40 35 32
38 40 35 30 32 35 38 40 32 35  30 35 32 38 42 30 32 40 35 42  62 68
"""

tags = ["a", "b", "c", "d", "e", "f", "g", "h"]
blocksizes = [75, 80, 80, 85, 100, 85, 95, 95]
jumps = [1, 3, 6, 3, 6, 9, 12, 9]
tours = [1, 6, 12]
runs = [(a_t1, a_t6, a_t12), (b_t1, b_t6, b_t12), (c_t1, c_t6, c_t12),
        (d_t1, d_t6, d_t12), (e_t1, e_t6, e_t12), (f_t1, f_t6, f_t12),
        (g_t1, g_t6, g_t12), (h_t1, h_t6, h_t12)]


def to_ratio(s):
    return 1 + np.array(s.split(), dtype=float) / 1000


W, H = 904, 1269
fig = plt.figure(figsize=(W / 100, H / 100), dpi=100)

col_left = [45, 507]
row_top = [13, 334, 655, 978]
cap_x = [227, 691]
cap_y = [281, 602, 924, 1248]
ax_w, ax_h = 402, 224

styles = [dict(c='k', marker='o', s=5, alpha=1.0),
          dict(c='b', marker='^', s=7, alpha=0.5),
          dict(c='r', marker='o', s=5, alpha=1.0)]

lab = r"Real($||\mathbf{b}_i^*||$)/Sim($||\mathbf{b}_i^*||$), Tours = %d"

for k in range(8):
    r, c = divmod(k, 2)
    ax = fig.add_axes([col_left[c] / W, 1 - (row_top[r] + ax_h) / H, ax_w / W, ax_h / H])

    ax.fill_between([0, 252], 0.95, 1.05, color='0.9', lw=0, zorder=0)
    ax.plot([0, 252], [1.0, 1.0], color='0.3', lw=1.2, zorder=1)
    ax.plot([0, 252], [1.05, 1.05], 'k--', lw=0.7, zorder=1)
    ax.plot([0, 252], [0.95, 0.95], 'k--', lw=0.7, zorder=1)
    ax.plot([1, 252], [1.10, 1.10], color='0.4', ls=':', lw=0.8, zorder=1)
    ax.plot([1, 252], [0.90, 0.90], color='0.4', ls=':', lw=0.8, zorder=1)

    for t, s, st in zip(tours, runs[k], styles):
        y = to_ratio(s)
        ax.scatter(np.arange(len(y)), y, linewidths=0, label=lab % t, zorder=2, **st)

    ax.set_xlim(-12.6, 264.6)
    ax.set_ylim(0.85, 1.15)
    ax.set_xticks([0, 50, 100, 150, 200, 250])
    ax.set_yticks([0.85, 0.90, 0.95, 1.00, 1.05, 1.10, 1.15])
    ax.set_yticklabels(['%.2f' % v for v in ax.get_yticks()])
    ax.tick_params(labelsize=7.0, colors='0.15', length=2.5, width=0.6, pad=2)
    ax.tick_params(axis='y', length=1.5, pad=1)
    ax.tick_params(color='0.55')
    for sp in ax.spines.values():
        sp.set_color('0.6')
        sp.set_linewidth(0.8)

    ax.set_title("Dimension = 252, Blocksize = %d, Jump = %d" % (blocksizes[k], jumps[k]),
                 fontsize=6.7, pad=2, color='0.1')
    ax.set_xlabel("Index", fontsize=8.5, labelpad=-2, color='0.1')
    ax.set_ylabel("Ratio", fontsize=8.5, labelpad=0, color='0.1')

    leg = ax.legend(loc='upper right', fontsize=6.2, scatterpoints=1, markerscale=0.8,
                    borderaxespad=0.5, handletextpad=0.8, labelspacing=0.25,
                    borderpad=0.4)
    leg.get_frame().set_linewidth(0.6)

    fig.text(cap_x[c] / W, 1 - cap_y[r] / H,
             r"(%s) $\beta$=%d, Jump=%d" % (tags[k], blocksizes[k], jumps[k]),
             family='cmr10', math_fontfamily='cm', fontsize=17.8,
             ha='center', va='center')

fig.savefig('out.png', dpi=100)
